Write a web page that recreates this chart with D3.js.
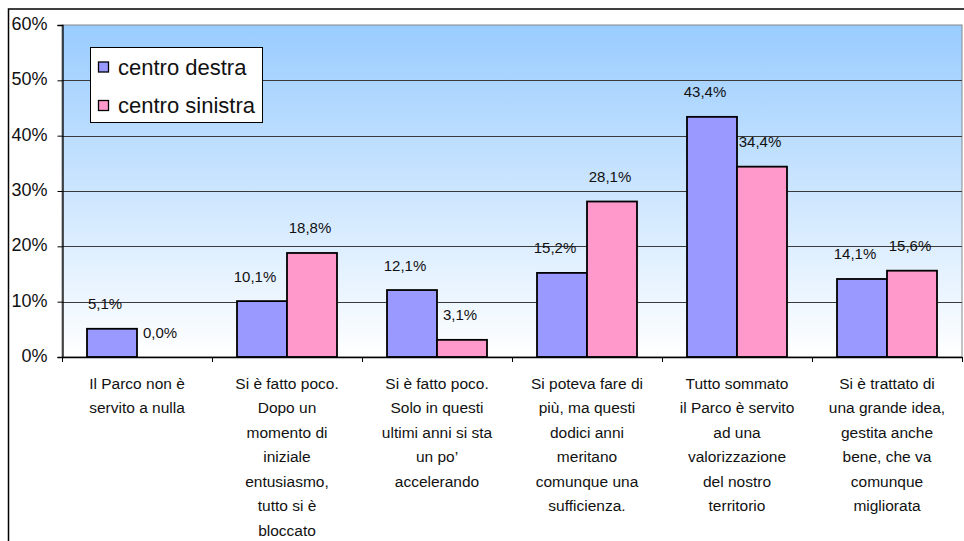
<!DOCTYPE html>
<html><head><meta charset="utf-8">
<script src="https://cdn.jsdelivr.net/npm/d3@7"></script>
<style>html,body{margin:0;padding:0;background:#fff;overflow:hidden}svg{display:block;font-family:"Liberation Sans",Arial,sans-serif}</style>
</head><body>
<script>
const categories = [
  ["Il Parco non è","servito a nulla"],
  ["Si è fatto poco.","Dopo un","momento di","iniziale","entusiasmo,","tutto si è","bloccato"],
  ["Si è fatto poco.","Solo in questi","ultimi anni si sta","un po’","accelerando"],
  ["Si poteva fare di","più, ma questi","dodici anni","meritano","comunque una","sufficienza."],
  ["Tutto sommato","il Parco è servito","ad una","valorizzazione","del nostro","territorio"],
  ["Si è trattato di","una grande idea,","gestita anche","bene, che va","comunque","migliorata"]
];
const seriesNames = ["centro destra","centro sinistra"];
const centroDestra = [5.1,10.1,12.1,15.2,43.4,14.1];
const centroSinistra = [0.0,18.8,3.1,28.1,34.4,15.6];
const yTicks = [0,10,20,30,40,50,60];
const colors = ["#9999FF","#FF99CC"];

const W = 964, H = 541;
const m = {left:62, top:25, right:962, bottom:357};
const svg = d3.select("body").append("svg").attr("width",W).attr("height",H);

const defs = svg.append("defs");
const grad = defs.append("linearGradient").attr("id","bg").attr("x1",0).attr("y1",0).attr("x2",0).attr("y2",1);
grad.append("stop").attr("offset","0%").attr("stop-color","#99CCFF");
grad.append("stop").attr("offset","100%").attr("stop-color","#FFFFFF");

// outer chart border
svg.append("rect").attr("x",8.5).attr("y",9).attr("width",980).attr("height",600)
  .attr("fill","#fff").attr("stroke","#000").attr("stroke-width",1.5);

const x = d3.scaleBand().domain(d3.range(categories.length)).range([m.left,m.right]);
const y = d3.scaleLinear().domain([0,60]).range([m.bottom,m.top]);
const xs = d3.scaleBand().domain([0,1]).range([0,x.bandwidth()]).paddingOuter(0.5).paddingInner(0);

// plot area
svg.append("rect").attr("x",m.left).attr("y",m.top).attr("width",m.right-m.left).attr("height",m.bottom-m.top)
  .attr("fill","url(#bg)").attr("stroke","#888").attr("stroke-width",1);

// gridlines
svg.append("g").selectAll("line").data(yTicks.filter(d=>d>0 && d<60)).join("line")
  .attr("x1",m.left).attr("x2",m.right).attr("y1",d=>Math.round(y(d))+0.5).attr("y2",d=>Math.round(y(d))+0.5)
  .attr("stroke","#3a3a3a").attr("stroke-width",1);

// y axis
const yAxis = svg.append("g").attr("transform",`translate(${m.left+0.5},0)`)
  .call(d3.axisLeft(y).tickValues(yTicks).tickFormat(d=>d+"%").tickSize(5).tickPadding(10));
yAxis.select(".domain").attr("stroke","#000").attr("stroke-width",1.3);
yAxis.selectAll(".tick line").attr("stroke","#000");
yAxis.selectAll("text").attr("font-size",18).attr("fill","#111").attr("font-family","Liberation Sans, Arial, sans-serif").attr("dy","0.25em");

// bars
const data = [];
categories.forEach((c,i)=>{
  data.push({i, s:0, v:centroDestra[i]});
  data.push({i, s:1, v:centroSinistra[i]});
});
svg.append("g").selectAll("rect").data(data.filter(d=>d.v>0)).join("rect")
  .attr("x",d=>x(d.i)+xs(d.s)).attr("width",xs.bandwidth())
  .attr("y",d=>y(d.v)).attr("height",d=>y(0)-y(d.v))
  .attr("fill",d=>colors[d.s]).attr("stroke","#000").attr("stroke-width",1.8);

// x axis
svg.append("line").attr("x1",m.left).attr("x2",m.right).attr("y1",m.bottom+0.5).attr("y2",m.bottom+0.5)
  .attr("stroke","#000").attr("stroke-width",1.3);
const bounds = d3.range(categories.length+1).map(i=> i<categories.length ? x(i) : m.right);
svg.append("g").selectAll("line").data(bounds).join("line")
  .attr("x1",d=>d+0.5).attr("x2",d=>d+0.5).attr("y1",m.bottom).attr("y2",m.bottom+5)
  .attr("stroke","#000").attr("stroke-width",1);

// category labels
const cl = svg.append("g").attr("font-size",15.5).attr("fill","#111").attr("text-anchor","middle");
categories.forEach((lines,i)=>{
  const t = cl.append("text").attr("x",x(i)+x.bandwidth()/2).attr("y",388.5);
  lines.forEach((ln,k)=>{
    t.append("tspan").attr("x",x(i)+x.bandwidth()/2).attr("y",388.5+k*24.5).text(ln);
  });
});

// data labels
const fmt = v => d3.format(".1f")(v).replace(".",",")+"%";
svg.append("g").selectAll("text").data(data).join("text")
  .attr("x",d=>x(d.i)+xs(d.s)+xs.bandwidth()/2 + (d.s===0?-7:-2))
  .attr("y",d=>y(d.v)-19.5)
  .attr("text-anchor","middle").attr("font-size",15).attr("fill","#111")
  .text(d=>fmt(d.v));

// legend
const lg = svg.append("g");
lg.append("rect").attr("x",90.5).attr("y",47.5).attr("width",172).attr("height",75)
  .attr("fill","#fff").attr("stroke","#000").attr("stroke-width",1);
seriesNames.forEach((n,k)=>{
  const cy = 67 + k*38.5;
  lg.append("rect").attr("x",98.5).attr("y",cy-5).attr("width",10).attr("height",10)
    .attr("fill",colors[k]).attr("stroke","#000").attr("stroke-width",1.3);
  lg.append("text").attr("x",118).attr("y",cy+7.5).attr("font-size",22).attr("fill","#111").text(n);
});
</script>
</body></html>
